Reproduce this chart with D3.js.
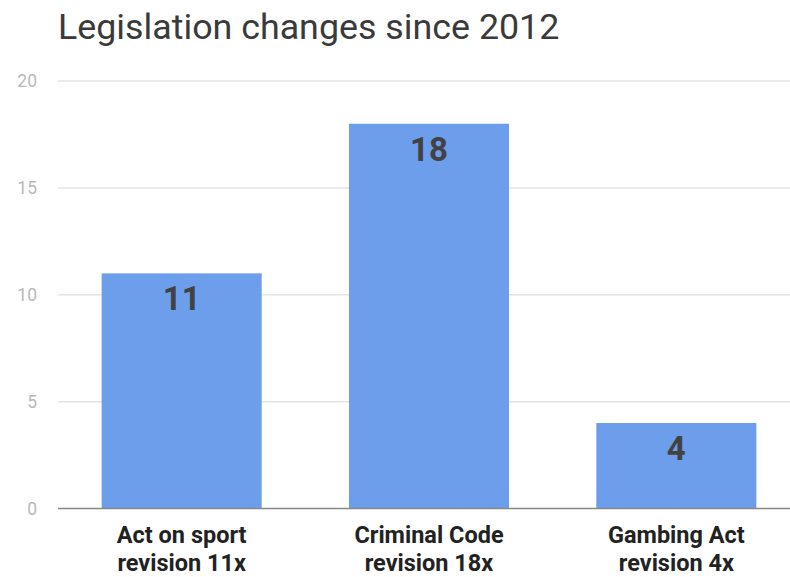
<!DOCTYPE html>
<html>
<head>
<meta charset="utf-8">
<script src="https://cdn.jsdelivr.net/npm/d3@7"></script>
<style>
  html, body { margin: 0; padding: 0; background: #fff; }
  svg { display: block; font-family: Roboto, "Noto Sans", sans-serif; }
</style>
</head>
<body>
<svg id="chart" width="790" height="577"></svg>
<script>
// Legislation revisions since 2012
const categories = ["Act on sport|revision 11x", "Criminal Code|revision 18x", "Gambing Act|revision 4x"];
const revisions = [11, 18, 4];
const yTicks = [0, 5, 10, 15, 20];

const svg = d3.select("#chart");
const W = 790, H = 577;

const x = d3.scaleBand()
  .domain(categories)
  .range([58, 800])
  .paddingInner(0.353)
  .paddingOuter(0.1765);

const y = d3.scaleLinear()
  .domain([0, 20])
  .range([508.5, 81]);

// title
svg.append("text")
  .attr("x", 58)
  .attr("y", 39)
  .attr("font-size", 35.8)
  .attr("fill", "#3a3a3a")
  .text("Legislation changes since 2012");

// y tick labels
const yAxis = d3.axisLeft(y).tickValues(yTicks).tickSize(0).tickPadding(21);
const gy = svg.append("g").attr("transform", "translate(58,0)").call(yAxis);
gy.select(".domain").remove();
gy.selectAll("text")
  .attr("font-size", 17.5)
  .attr("fill", "#b8b8b8")
  .attr("font-family", "Roboto, sans-serif");

// gridlines
svg.append("g")
  .selectAll("line")
  .data(yTicks.filter(d => d !== 0))
  .join("line")
  .attr("x1", 58).attr("x2", W)
  .attr("y1", d => y(d)).attr("y2", d => y(d))
  .attr("stroke", "#e4e4e4")
  .attr("stroke-width", 1.5);

// bars
svg.append("g")
  .selectAll("rect")
  .data(categories)
  .join("rect")
  .attr("x", d => x(d))
  .attr("width", x.bandwidth())
  .attr("y", (d, i) => y(revisions[i]))
  .attr("height", (d, i) => y(0) - y(revisions[i]))
  .attr("fill", "#6d9eeb");

// baseline
svg.append("line")
  .attr("x1", 58).attr("x2", W)
  .attr("y1", y(0)).attr("y2", y(0))
  .attr("stroke", "#888")
  .attr("stroke-width", 1.5);

// value labels
svg.append("g")
  .selectAll("text")
  .data(categories)
  .join("text")
  .attr("x", d => x(d) + x.bandwidth() / 2)
  .attr("y", (d, i) => y(revisions[i]) + 37)
  .attr("text-anchor", "middle")
  .attr("font-size", 33)
  .attr("font-weight", "bold")
  .attr("fill", "#424242")
  .text((d, i) => revisions[i]);

// category labels (two lines each)
const xAxis = d3.axisBottom(x).tickSize(0).tickPadding(0);
const gx = svg.append("g").attr("transform", `translate(0,${y(0)})`).call(xAxis);
gx.select(".domain").remove();
gx.selectAll("text").each(function (d) {
  const t = d3.select(this).text("")
    .attr("font-size", 23.5)
    .attr("font-weight", "bold")
    .attr("fill", "#222")
    .attr("font-family", "Roboto, sans-serif")
    .attr("y", 0)
    .attr("dy", null);
  d.split("|").forEach((line, k) => {
    t.append("tspan").attr("x", 0).attr("y", 34 + k * 28).text(line);
  });
});
</script>
</body>
</html>
